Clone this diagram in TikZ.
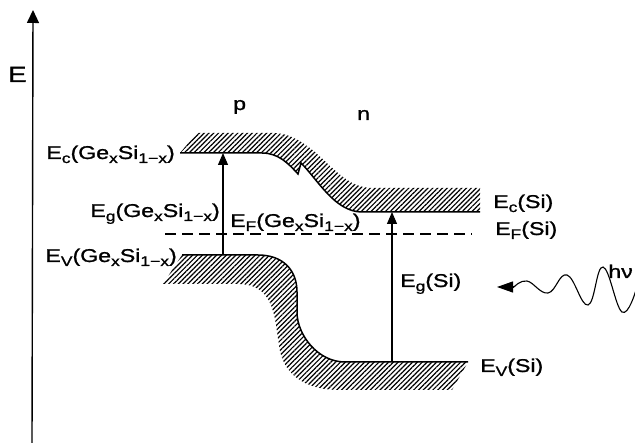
\documentclass[tikz,border=0pt]{standalone}
\usepackage{fontspec}
\setmainfont{Liberation Sans}[FakeStretch=1.25,FakeBold=1.2]
\usetikzlibrary{arrows.meta,patterns.meta}
\newcommand{\lo}[1]{\raisebox{-4pt}{\fontsize{14}{14}\selectfont #1}}
\newcommand{\gesi}{(Ge\lo{x}Si\lo{1−x})}
\tikzset{
  lbl/.style={inner sep=0pt,font=\fontsize{18.5}{18.5}\selectfont},
  hatch/.style={pattern={Lines[angle=45,distance=3.4pt,line width=1.2pt]}},
  edge/.style={line width=1.5pt},
  gaparrow/.style={line width=1.1pt,-{Triangle[length=12pt,width=10pt]}},
  fermi/.style={line width=1.3pt,dash pattern=on 11pt off 6pt}
}
\begin{document}
\begin{tikzpicture}[x=1pt,y=-1pt]
\useasboundingbox (0,0) rectangle (635,443);
% axis
\coordinate (axb) at (32,443);
\coordinate (axt) at (33,10);
\draw[line width=1.4pt,-{Triangle[length=13pt,width=12pt]}] (axb) -- (axt);
\node[lbl,font=\fontsize{22}{22}\selectfont,anchor=base west] (E) at (8,82) {E};
% conduction band
\fill[hatch] (180,153) -- (197,133) -- (273,133) .. controls (288,133) and (300,140) .. (315,152)
  .. controls (335,170) and (350,188) .. (372,188) -- (480,188) -- (480,212) -- (362,212)
  .. controls (335,212) and (318,180) .. (301,163) -- (298,174)
  .. controls (288,163) and (278,153) .. (262,153) -- cycle;
\draw[edge] (180,153) -- (262,153) .. controls (278,153) and (288,163) .. (298,174) -- (301,163)
  .. controls (318,180) and (335,212) .. (362,212) -- (480,212);
% valence band
\fill[hatch] (182,255) -- (258,255) .. controls (283,255) and (297,270) .. (297,292) -- (297,312)
  .. controls (297,335) and (318,362) .. (345,362) -- (468,362) -- (452,390) -- (340,390)
  .. controls (302,390) and (282,372) .. (279,345) -- (276,325)
  .. controls (272,298) and (262,284) .. (238,284) -- (163,284) -- cycle;
\draw[edge] (182,255) -- (258,255) .. controls (283,255) and (297,270) .. (297,292) -- (297,312)
  .. controls (297,335) and (318,362) .. (345,362) -- (468,362);
% Fermi level
\coordinate (fl) at (165,234);
\coordinate (fr) at (472,234);
\draw[fermi] (fl) -- (fr);
% gap arrows
\coordinate (gv1) at (223,255);
\coordinate (gc1) at (223,153);
\draw[gaparrow] (gv1) -- (gc1);
\coordinate (gv2) at (392,362);
\coordinate (gc2) at (392,212);
\draw[gaparrow] (gv2) -- (gc2);
% labels
\node[lbl,anchor=base west] (p) at (233,110) {p};
\node[lbl,anchor=base west] (n) at (357,120) {n};
\node[lbl,anchor=base east] (ecg) at (175,159) {E\lo{c}\gesi};
\node[lbl,anchor=base east] (egg) at (220,217) {E\lo{g}\gesi};
\node[lbl,anchor=base west] (efg) at (230,227) {E\lo{F}\gesi};
\node[lbl,anchor=base east] (evg) at (177,262) {E\lo{V}\gesi};
\node[lbl,anchor=base west] (ecs) at (493,208) {E\lo{c}(Si)};
\node[lbl,anchor=base west] (efs) at (495,235) {E\lo{F}(Si)};
\node[lbl,anchor=base west] (egs) at (400,287) {E\lo{g}(Si)};
\node[lbl,anchor=base west] (evs) at (480,372) {E\lo{V}(Si)};
\node[lbl,anchor=base east] (hv) at (633,278) {hν};
% photon
\coordinate (ph) at (497,287);
\coordinate (w0) at (514,287);
\draw[line width=1.1pt,-{Triangle[length=16pt,width=11pt]}] (w0) -- (ph);
\draw[line width=1.1pt] plot[smooth,tension=0.7] coordinates
  {(w0) (527,281) (548,293) (567,275) (588,305) (603,267) (622,312) (636,290)};
\end{tikzpicture}
\end{document}
